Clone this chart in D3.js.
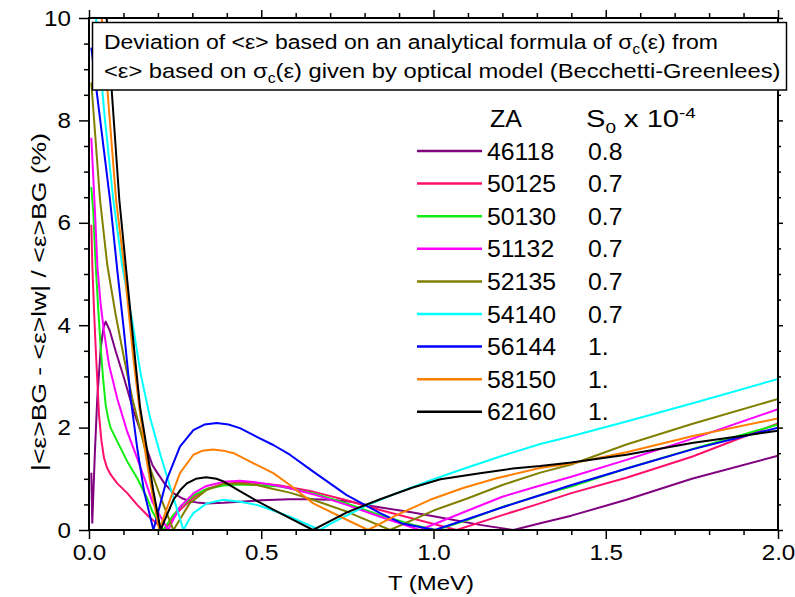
<!DOCTYPE html>
<html><head><meta charset="utf-8">
<script src="https://cdn.jsdelivr.net/npm/d3@7"></script>
<style>body{margin:0;background:#fff} svg text{font-family:"Liberation Sans",Arial,sans-serif;fill:#000}</style>
</head><body><svg id="c" width="795" height="597"></svg>
<script>
// ---------- data ----------
const zaLabels = ["46118","50125","50130","51132","52135","54140","56144","58150","62160"];
const s0Labels = ["0.8","0.7","0.7","0.7","0.7","0.7","1.","1.","1."];
const colors = ["#800080","#ff0f6a","#11ee11","#ff00ff","#808000","#00ffff","#0000ff","#ff8000","#000000"];
const xMajor = [0,0.5,1,1.5,2];
const xTickLabels = ["0.0","0.5","1.0","1.5","2.0"];
const yMajor = [0,2,4,6,8,10];
const yTickLabels = ["0","2","4","6","8","10"];

const za46118 = [[0.0067,1.12],[0.0095,0.14],[0.017,1.5],[0.024,2.57],[0.034,3.55],[0.042,3.95],[0.0485,4.07],[0.06,3.9],[0.0775,3.49],[0.1016,2.97],[0.13,2.31],[0.16,1.73],[0.184,1.27],[0.196,1.14],[0.22,0.9],[0.245,0.72],[0.27,0.62],[0.293,0.56],[0.32,0.53],[0.342,0.52],[0.39,0.53],[0.438,0.55],[0.5,0.58],[0.583,0.6],[0.65,0.6],[0.7,0.59],[0.76,0.55],[0.82,0.47],[0.94,0.34],[1.04,0.22],[1.135,0.1],[1.232,0],[1.31,0.13],[1.4,0.28],[1.56,0.59],[1.75,1.0],[2.0,1.45]];
const za50125 = [[0.0067,5.96],[0.0096,5.18],[0.0145,4.3],[0.0194,3.56],[0.029,2.25],[0.036,1.75],[0.0435,1.41],[0.052,1.22],[0.063,1.08],[0.082,0.91],[0.111,0.72],[0.14,0.49],[0.174,0.26],[0.198,0.12],[0.22,0],[0.24,0.2],[0.265,0.4],[0.304,0.64],[0.341,0.8],[0.39,0.9],[0.438,0.93],[0.487,0.92],[0.555,0.87],[0.65,0.75],[0.748,0.58],[0.845,0.39],[0.942,0.22],[1.067,0],[1.2,0.29],[1.3,0.5],[1.4,0.72],[1.56,1.02],[1.75,1.43],[2.0,2.08]];
const za50130 = [[0.0067,6.7],[0.0125,6.2],[0.0194,5.18],[0.027,4.3],[0.034,3.56],[0.041,2.95],[0.0485,2.44],[0.056,2.17],[0.063,1.99],[0.082,1.73],[0.111,1.34],[0.14,1.01],[0.169,0.62],[0.184,0.36],[0.2,0.17],[0.216,0],[0.24,0.25],[0.265,0.45],[0.304,0.68],[0.341,0.8],[0.39,0.87],[0.438,0.89],[0.487,0.88],[0.555,0.85],[0.65,0.72],[0.748,0.52],[0.845,0.29],[0.942,0.1],[1.009,0],[1.1,0.2],[1.2,0.45],[1.3,0.66],[1.4,0.85],[1.56,1.2],[1.75,1.58],[2.0,2.06]];
const za51132 = [[0.0067,7.66],[0.0102,7.2],[0.0174,6.2],[0.0247,5.12],[0.034,4.4],[0.0435,3.88],[0.058,3.23],[0.082,2.57],[0.111,1.92],[0.14,1.4],[0.1646,0.94],[0.184,0.55],[0.207,0.27],[0.23,0],[0.248,0.25],[0.265,0.46],[0.304,0.72],[0.341,0.86],[0.39,0.94],[0.438,0.96],[0.487,0.93],[0.535,0.88],[0.58,0.82],[0.65,0.7],[0.748,0.49],[0.845,0.26],[0.96,0],[1.1,0.38],[1.2,0.65],[1.3,0.85],[1.4,1.04],[1.56,1.37],[1.75,1.78],[2.0,2.36]];
const za52135 = [[0.0067,8.74],[0.032,6.45],[0.053,5.18],[0.0775,4.2],[0.1016,3.36],[0.1257,2.57],[0.15,1.92],[0.174,1.27],[0.21,0.6],[0.245,0],[0.265,0.22],[0.292,0.52],[0.341,0.78],[0.39,0.9],[0.438,0.91],[0.487,0.88],[0.535,0.8],[0.583,0.73],[0.65,0.59],[0.748,0.36],[0.874,0],[1.0,0.38],[1.1,0.62],[1.2,0.88],[1.31,1.12],[1.4,1.28],[1.56,1.67],[1.75,2.07],[2.0,2.56]];
const za54140 = [[0.0125,11],[0.0203,10.0],[0.045,8.1],[0.0705,6.45],[0.096,5.18],[0.125,4.1],[0.15,3.05],[0.177,2.2],[0.206,1.5],[0.235,0.85],[0.255,0.42],[0.274,0],[0.29,0.2],[0.303,0.33],[0.342,0.52],[0.39,0.59],[0.438,0.55],[0.487,0.49],[0.535,0.38],[0.583,0.26],[0.67,0],[0.7,0.12],[0.8,0.46],[0.9,0.74],[1.0,0.99],[1.09,1.2],[1.2,1.45],[1.31,1.68],[1.4,1.83],[1.56,2.12],[1.75,2.47],[2.0,2.95]];
const za56144 = [[0.0067,9.42],[0.061,6.45],[0.082,5.08],[0.1016,3.88],[0.121,2.57],[0.14,1.6],[0.16,0.75],[0.187,0],[0.2255,0.98],[0.264,1.63],[0.303,1.95],[0.335,2.06],[0.371,2.09],[0.405,2.06],[0.438,1.99],[0.487,1.82],[0.535,1.66],[0.583,1.47],[0.651,1.14],[0.748,0.68],[0.845,0.33],[0.912,0.12],[1.004,0],[1.106,0.23],[1.203,0.45],[1.309,0.68],[1.396,0.87],[1.561,1.2],[1.754,1.58],[2.0,2.0]];
const za58150 = [[0.028,11],[0.037,10],[0.0786,6.45],[0.1016,5.18],[0.128,3.4],[0.145,2.45],[0.165,1.45],[0.184,0.7],[0.204,0],[0.235,0.59],[0.264,1.11],[0.303,1.47],[0.33,1.55],[0.36,1.57],[0.39,1.55],[0.42,1.5],[0.487,1.27],[0.535,1.11],[0.583,0.88],[0.651,0.52],[0.748,0.2],[0.81,0],[0.893,0.29],[0.99,0.59],[1.086,0.82],[1.183,1.01],[1.309,1.21],[1.4,1.3],[1.56,1.52],[1.75,1.83],[2.0,2.18]];
const za62160 = [[0.044,11],[0.0513,10],[0.088,6.45],[0.1065,5.18],[0.1355,3.23],[0.148,2.41],[0.167,1.63],[0.1863,0.78],[0.208,0],[0.226,0.29],[0.245,0.59],[0.265,0.78],[0.284,0.91],[0.31,1.0],[0.34,1.03],[0.37,1.0],[0.39,0.95],[0.438,0.76],[0.487,0.57],[0.535,0.4],[0.583,0.23],[0.65,0],[0.75,0.35],[0.845,0.6],[0.94,0.83],[1.02,0.99],[1.135,1.11],[1.23,1.2],[1.31,1.25],[1.4,1.32],[1.56,1.47],[1.75,1.7],[2.0,1.94]];
const seriesData = [za46118,za50125,za50130,za51132,za52135,za54140,za56144,za58150,za62160];

// ---------- layout ----------
const svg = d3.select("#c");
const X0 = 89, X1 = 778, Y0 = 530, Y1 = 18;
const x = d3.scaleLinear().domain([0,2]).range([X0,X1]);
const y = d3.scaleLinear().domain([0,10]).range([Y0,Y1]);
const FONT = '"Liberation Sans",Arial,sans-serif';

const xMinor = d3.range(0,2.0001,0.1).filter(v => Math.abs(v*2-Math.round(v*2))>1e-6);
const yMinor = d3.range(0,10.0001,0.5).filter(v => Math.abs(v/2-Math.round(v/2))>1e-6);

function styleAxis(g){ g.select(".domain").remove(); g.selectAll(".tick line").attr("stroke","#000").attr("stroke-width",1.5); g.selectAll("text").attr("font-family",FONT).attr("font-size",22).attr("fill","#000"); }

svg.append("g").attr("transform",`translate(0,${Y0})`).call(d3.axisBottom(x).tickValues(xMajor).tickSize(9).tickPadding(5).tickFormat((d,i)=>xTickLabels[i])).call(styleAxis);
svg.append("g").attr("transform",`translate(0,${Y0})`).call(d3.axisBottom(x).tickValues(xMinor).tickSize(5).tickFormat("")).call(styleAxis);
svg.append("g").attr("transform",`translate(0,${Y1})`).call(d3.axisTop(x).tickValues(xMajor).tickSize(8).tickFormat("")).call(styleAxis);
svg.append("g").attr("transform",`translate(0,${Y1})`).call(d3.axisTop(x).tickValues(xMinor).tickSize(5).tickFormat("")).call(styleAxis);
svg.append("g").attr("transform",`translate(${X0},0)`).call(d3.axisLeft(y).tickValues(yMajor).tickSize(10).tickPadding(8).tickFormat((d,i)=>yTickLabels[i])).call(styleAxis);
svg.append("g").attr("transform",`translate(${X0},0)`).call(d3.axisLeft(y).tickValues(yMinor).tickSize(5).tickFormat("")).call(styleAxis);
svg.append("g").attr("transform",`translate(${X1},0)`).call(d3.axisRight(y).tickValues(yMajor).tickSize(5).tickFormat("")).call(styleAxis);
svg.append("g").attr("transform",`translate(${X1},0)`).call(d3.axisRight(y).tickValues(yMinor).tickSize(3).tickFormat("")).call(styleAxis);
svg.selectAll(".tick text").each(function(){ const t=d3.select(this); t.attr("textLength", this.getComputedTextLength()*1.1).attr("lengthAdjust","spacingAndGlyphs"); });

svg.append("clipPath").attr("id","clip").append("rect").attr("x",X0).attr("y",Y1).attr("width",X1-X0).attr("height",Y0-Y1);

const line = d3.line().x(d=>x(d[0])).y(d=>y(d[1]));
const gLines = svg.append("g").attr("clip-path","url(#clip)");
seriesData.forEach((s,i)=>{
  gLines.append("path").datum(s).attr("d",line).attr("fill","none").attr("stroke",colors[i]).attr("stroke-width",2).attr("stroke-linejoin","round");
});

svg.append("rect").attr("x",X0).attr("y",Y1).attr("width",X1-X0).attr("height",Y0-Y1).attr("fill","none").attr("stroke","#000").attr("stroke-width",2);

svg.append("rect").attr("x",92.5).attr("y",22.5).attr("width",694).attr("height",67.5).attr("fill","#fff").attr("stroke","#000").attr("stroke-width",1.5);

function addRich(parent, parts, fs){
  const t = parent.append("text").attr("x",0).attr("y",0).attr("font-size",fs);
  parts.forEach(p=>{
    const ts = t.append("tspan").text(p.t);
    if(p.fs){ ts.attr("font-size",p.fs); }
    if(p.dy){ ts.attr("dy",p.dy); }
  });
  return t;
}
function fitAt(g, x0, y0, width){
  const w = g.node().getBBox().width;
  g.attr("transform",`translate(${x0},${y0}) scale(${width/w},1)`);
}
const g1 = svg.append("g");
const g2 = svg.append("g");
addRich(g1,[{t:"Deviation of <ε> based on an analytical formula of σ"},{t:"c",fs:14,dy:5},{t:"(ε) from",dy:-5}],21);
addRich(g2,[{t:"<ε> based on σ"},{t:"c",fs:14,dy:5},{t:"(ε) given by optical model (Becchetti-Greenlees)",dy:-5}],21);
fitAt(g1,104,48.5,614);
fitAt(g2,104,77.5,677);

const legTop = 159.5, legStep = 32.6, LS = 1.08;
const gz = svg.append("g"); addRich(gz,[{t:"ZA"}],23); gz.attr("transform",`translate(490,126.5) scale(${LS},1)`);
const gs = svg.append("g");
addRich(gs,[{t:"S"},{t:"0",fs:15,dy:6},{t:" x 10",dy:-6},{t:"-4",fs:15,dy:-9}],23);
fitAt(gs,586,126.5,110);

zaLabels.forEach((lab,i)=>{
  const by = legTop + i*legStep;
  svg.append("line").attr("x1",417).attr("x2",482).attr("y1",by-8.5).attr("y2",by-8.5).attr("stroke",colors[i]).attr("stroke-width",2.5);
  const a = svg.append("g").attr("transform",`translate(487,${by}) scale(${LS},1)`);
  a.append("text").attr("font-size",23).text(lab);
  const b = svg.append("g").attr("transform",`translate(588,${by}) scale(${LS},1)`);
  b.append("text").attr("font-size",23).text(s0Labels[i]);
});

svg.append("text").attr("x",431).attr("y",590).attr("text-anchor","middle").attr("font-size",21).attr("textLength",86).attr("lengthAdjust","spacingAndGlyphs").text("T (MeV)");
svg.append("text").attr("transform","translate(46,302) rotate(-90)").attr("text-anchor","middle").attr("font-size",21).attr("textLength",338).attr("lengthAdjust","spacingAndGlyphs").text("|<ε>BG - <ε>lw| / <ε>BG (%)");
</script></body></html>
